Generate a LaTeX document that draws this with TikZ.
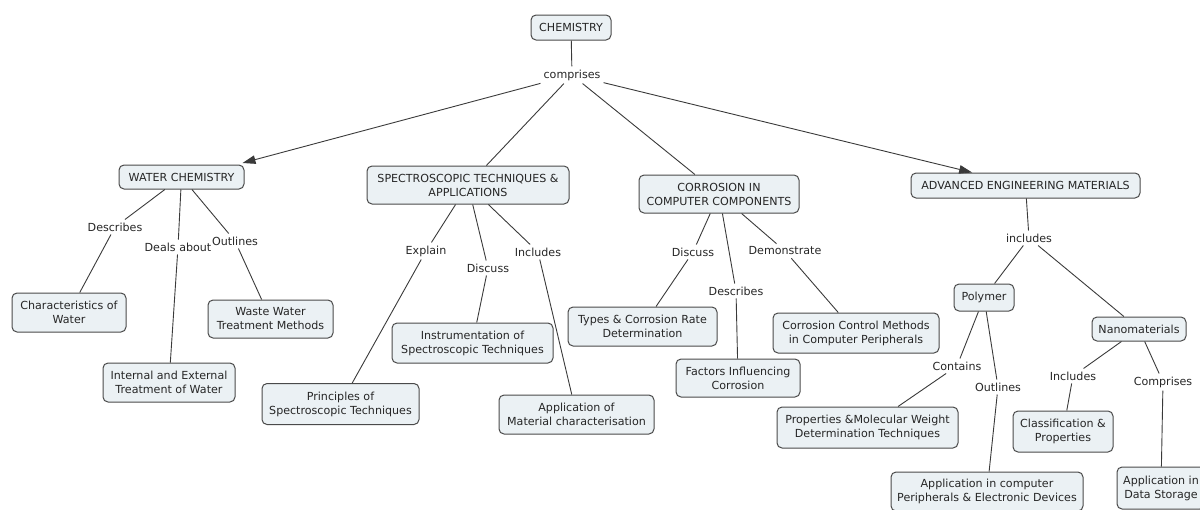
\documentclass[tikz,border=0pt]{standalone}
\usepackage{fontspec}
\setmainfont{DejaVu Sans}
\usetikzlibrary{arrows.meta}
\definecolor{boxfill}{HTML}{EBF1F4}
\definecolor{boxdraw}{HTML}{4A4A4A}
\definecolor{linec}{HTML}{3A3A3A}
\definecolor{txt}{HTML}{262626}
\begin{document}
\begin{tikzpicture}[x=1pt,y=-1pt,
 concept/.style={draw=boxdraw,fill=boxfill,rounded corners=5pt,line width=1pt,align=center,inner sep=0pt,text=txt,font=\fontsize{11.1}{14}\selectfont},
 lbl/.style={inner sep=3pt,text=txt,font=\fontsize{11.1}{14}\selectfont},
 conn/.style={draw=linec,line width=0.9pt},
 arr/.style={conn,-{Triangle[length=13pt,width=8.5pt]}}]
\useasboundingbox (0,0) rectangle (1200,509);
% concepts
\node[concept,minimum width=80,minimum height=25] (chem) at (571,27.5) {CHEMISTRY};
\node[lbl] (comp) at (572,75) {comprises};
\node[concept,minimum width=125,minimum height=24] (water) at (181.5,177) {WATER CHEMISTRY};
\node[concept,minimum width=202,minimum height=38] (spec) at (468,185) {SPECTROSCOPIC TECHNIQUES \&\\APPLICATIONS};
\node[concept,minimum width=160,minimum height=38] (corr) at (719,194) {CORROSION IN\\COMPUTER COMPONENTS};
\node[concept,minimum width=229,minimum height=25] (adv) at (1025.5,185.5) {ADVANCED ENGINEERING MATERIALS};
% water
\node[concept,minimum width=114,minimum height=39] (charac) at (69,312.5) {Characteristics of\\Water};
\node[concept,minimum width=125,minimum height=38] (waste) at (270.5,319) {Waste Water\\Treatment Methods};
\node[concept,minimum width=132,minimum height=39] (internal) at (169,382.5) {Internal and External\\Treatment of Water};
\node[lbl] (wdesc) at (115,227) {Describes};
\node[lbl] (wdeal) at (178,247) {Deals about};
\node[lbl] (wout) at (235,241) {Outlines};
% spectroscopy
\node[concept,minimum width=161,minimum height=40] (instr) at (472.5,343) {Instrumentation of\\Spectroscopic Techniques};
\node[concept,minimum width=157,minimum height=41] (princ) at (340.5,404) {Principles of\\Spectroscopic Techniques};
\node[concept,minimum width=155,minimum height=39] (appmat) at (576.5,414.5) {Application of\\Material characterisation};
\node[lbl] (sexp) at (426,251) {Explain};
\node[lbl] (sdis) at (488,268) {Discuss};
\node[lbl] (sinc) at (538,252) {Includes};
% corrosion
\node[concept,minimum width=149,minimum height=39] (types) at (642.5,326.5) {Types \& Corrosion Rate\\Determination};
\node[concept,minimum width=124,minimum height=38] (factors) at (738,378) {Factors Influencing\\Corrosion};
\node[concept,minimum width=166,minimum height=40] (ccm) at (856,333) {Corrosion Control Methods\\in Computer Peripherals};
\node[lbl] (cdis) at (693,252) {Discuss};
\node[lbl] (cdesc) at (736,291) {Describes};
\node[lbl] (cdem) at (785,251) {Demonstrate};
% advanced
\node[lbl] (ainc) at (1029,238) {includes};
\node[concept,minimum width=60,minimum height=27] (poly) at (984,297.5) {Polymer};
\node[concept,minimum width=94,minimum height=24] (nano) at (1139,329) {Nanomaterials};
\node[lbl] (pcon) at (957,366) {Contains};
\node[lbl] (pout) at (998,387) {Outlines};
\node[lbl] (ninc) at (1073,376) {Includes};
\node[lbl] (ncomp) at (1163,382) {Comprises};
\node[concept,minimum width=181,minimum height=41] (props) at (867.5,427.5) {Properties \&Molecular Weight\\Determination Techniques};
\node[concept,minimum width=192,minimum height=39] (appcomp) at (987,491.5) {Application in computer\\Peripherals \& Electronic Devices};
\node[concept,minimum width=100,minimum height=41] (classif) at (1063,431.5) {Classification \&\\Properties};
\node[concept,minimum width=88,minimum height=42] (appdata) at (1161,488) {Application in\\Data Storage};
% connectors
\draw[conn] (chem) -- (comp);
\draw[arr] (comp) -- ([xshift=-2pt,yshift=1.5pt]water.north east);
\draw[conn] (comp) -- (spec);
\draw[conn] (comp) -- (corr);
\draw[arr] (comp) -- (adv);
\draw[conn] (water) -- (wdesc); \draw[conn] (wdesc) -- (charac);
\draw[conn] (water) -- (wdeal); \draw[conn] (wdeal) -- (internal);
\draw[conn] (water) -- (wout); \draw[conn] (wout) -- (waste);
\draw[conn] (spec) -- (sexp); \draw[conn] (sexp) -- (princ);
\draw[conn] (spec) -- (sdis); \draw[conn] (sdis) -- (instr);
\draw[conn] (spec) -- (sinc); \draw[conn] (sinc) -- (appmat);
\draw[conn] (corr) -- (cdis); \draw[conn] (cdis) -- (types);
\draw[conn] (corr) -- (cdesc); \draw[conn] (cdesc) -- (factors);
\draw[conn] (corr) -- (cdem); \draw[conn] (cdem) -- (ccm);
\draw[conn] (adv) -- (ainc); \draw[conn] (ainc) -- (poly); \draw[conn] (ainc) -- (nano);
\draw[conn] (poly) -- (pcon); \draw[conn] (pcon) -- (props);
\draw[conn] (poly) -- (pout); \draw[conn] (pout) -- (appcomp);
\draw[conn] (nano) -- (ninc); \draw[conn] (ninc) -- (classif);
\draw[conn] (nano) -- (ncomp); \draw[conn] (ncomp) -- (appdata);
\end{tikzpicture}
\end{document}
